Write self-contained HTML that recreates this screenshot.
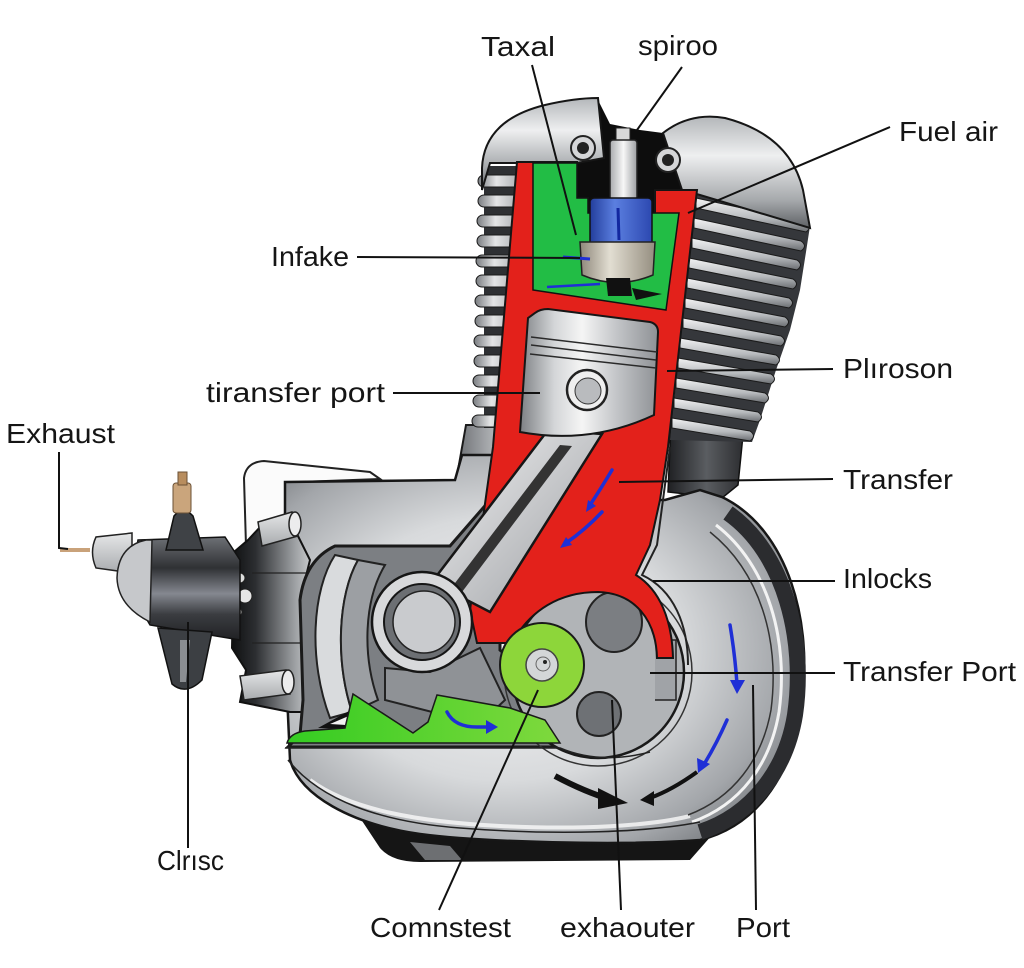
<!DOCTYPE html>
<html><head><meta charset="utf-8"><style>
html,body{margin:0;padding:0;background:#fff;}
svg{display:block;}
text{font-family:"Liberation Sans",Arial,sans-serif;font-size:28px;fill:#151515;}
</style></head><body>
<svg width="1024" height="968" viewBox="0 0 1024 968" xmlns="http://www.w3.org/2000/svg">
<defs>
<linearGradient id="gHead" x1="0" y1="0" x2="0" y2="1"><stop offset="0" stop-color="#b4b7ba"/><stop offset=".35" stop-color="#eeeff0"/><stop offset=".75" stop-color="#a6a9ac"/><stop offset="1" stop-color="#5e6165"/></linearGradient>
<linearGradient id="gFin" x1="0" y1="0" x2="0" y2="1"><stop offset="0" stop-color="#f2f2f3"/><stop offset=".6" stop-color="#b7babd"/><stop offset="1" stop-color="#6a6d71"/></linearGradient>
<linearGradient id="gFinL" x1="0" y1="0" x2="1" y2="0"><stop offset="0" stop-color="#7a7d81"/><stop offset=".4" stop-color="#e4e5e6"/><stop offset="1" stop-color="#9fa2a5"/></linearGradient>
<radialGradient id="gCase" cx=".42" cy=".5" r=".68"><stop offset="0" stop-color="#f5f5f6"/><stop offset=".5" stop-color="#d8dadc"/><stop offset=".8" stop-color="#a3a6aa"/><stop offset="1" stop-color="#6a6d71"/></radialGradient>
<linearGradient id="gPiston" x1="0" y1="0" x2="1" y2="0"><stop offset="0" stop-color="#7d8084"/><stop offset=".25" stop-color="#d4d6d8"/><stop offset=".45" stop-color="#f5f5f5"/><stop offset=".7" stop-color="#c3c5c8"/><stop offset="1" stop-color="#8e9195"/></linearGradient>
<linearGradient id="gRod" x1="0" y1="0" x2="1" y2="1"><stop offset="0" stop-color="#f2f2f3"/><stop offset="1" stop-color="#9a9da1"/></linearGradient>
<linearGradient id="gBlue" x1="0" y1="0" x2="1" y2="0"><stop offset="0" stop-color="#233e9c"/><stop offset=".4" stop-color="#5b7fe0"/><stop offset="1" stop-color="#2c48b0"/></linearGradient>
<linearGradient id="gBeige" x1="0" y1="0" x2="1" y2="0"><stop offset="0" stop-color="#8e877a"/><stop offset=".4" stop-color="#e2ded2"/><stop offset="1" stop-color="#958e80"/></linearGradient>
<linearGradient id="gCarb" x1="0" y1="0" x2="0" y2="1"><stop offset="0" stop-color="#6d7075"/><stop offset=".3" stop-color="#2f3134"/><stop offset=".55" stop-color="#858890"/><stop offset=".75" stop-color="#3b3d41"/><stop offset="1" stop-color="#202124"/></linearGradient>
<linearGradient id="gLeft" x1="0" y1="0" x2="1" y2="0"><stop offset="0" stop-color="#0f1011"/><stop offset=".3" stop-color="#2c2e31"/><stop offset=".8" stop-color="#9c9fa2"/><stop offset="1" stop-color="#c6c8ca"/></linearGradient>
<linearGradient id="gOil" x1="0" y1="0" x2="1" y2="0"><stop offset="0" stop-color="#34cc22"/><stop offset="1" stop-color="#7fd93d"/></linearGradient>
<linearGradient id="gTube" x1="0" y1="0" x2="1" y2="0"><stop offset="0" stop-color="#1f2023"/><stop offset=".5" stop-color="#5a5d61"/><stop offset="1" stop-color="#2a2b2e"/></linearGradient>
<linearGradient id="gSkirt" x1="0" y1="0" x2="1" y2="0"><stop offset="0" stop-color="#6f7276"/><stop offset="1" stop-color="#c5c7ca"/></linearGradient>
<linearGradient id="gPlug" x1="0" y1="0" x2="1" y2="0"><stop offset="0" stop-color="#a9abae"/><stop offset=".5" stop-color="#f7f7f7"/><stop offset="1" stop-color="#9c9ea1"/></linearGradient>
<linearGradient id="gLight" x1="0" y1="0" x2="0" y2="1"><stop offset="0" stop-color="#e6e7e8"/><stop offset="1" stop-color="#a8abae"/></linearGradient>
</defs>

<!-- tube and skirt behind -->
<path d="M672 400 L745 415 L738 485 L722 498 L668 492 Z" fill="url(#gTube)" stroke="#111" stroke-width="1.5"/>
<path d="M466 425 L505 425 L500 502 L460 502 L458 470 Z" fill="url(#gSkirt)" stroke="#1a1a1a" stroke-width="2"/>

<!-- white plate -->
<path d="M246 546 L244 478 Q246 462 264 461 L370 472 L380 479 L300 482 L292 546 Z" fill="#fbfbfb" stroke="#222" stroke-width="2"/>

<!-- base -->
<path d="M335 780 L380 848 Q392 862 420 862 L690 860 L712 835 L600 828 Z" fill="#151515"/>
<path d="M410 842 L450 846 L462 860 L425 860 Z" fill="#6d6f72"/>

<!-- crankcase body -->
<path d="M285 482 L455 480 L462 455 L505 455 L500 500 L665 500 L700 490 L722 497 C790 530 812 625 802 700 C795 770 760 825 700 840 C620 846 480 842 420 834 C350 824 300 795 290 760 L285 650 Z" fill="url(#gCase)" stroke="#161616" stroke-width="2.5"/>
<path d="M310 780 C350 810 420 822 500 826 C580 830 650 826 690 816" fill="none" stroke="#fafafa" stroke-width="4" opacity=".8"/>
<!-- ring -->
<path d="M728 513 C785 553 806 640 795 715 C786 770 752 815 700 832" fill="none" stroke="#2b2c2f" stroke-width="16"/>
<path d="M716 525 C768 565 789 640 779 712 C770 765 740 805 692 822" fill="none" stroke="#f3f3f3" stroke-width="3"/>
<path d="M710 532 C760 572 780 640 771 710 C762 760 733 798 688 815" fill="none" stroke="#333" stroke-width="1.5"/>
<path d="M288 760 C320 800 380 822 460 828 C560 836 650 832 700 822" fill="none" stroke="#222" stroke-width="1.5"/>

<!-- left dark cover -->
<path d="M290 520 L262 525 L248 540 L234 552 L232 648 L246 670 L240 702 L290 712 L305 712 L300 600 L310 560 Z" fill="url(#gLeft)" stroke="#111" stroke-width="2"/>
<line x1="252" y1="573" x2="306" y2="573" stroke="#222" stroke-width="1.2"/>
<line x1="252" y1="643" x2="302" y2="643" stroke="#222" stroke-width="1.2"/>
<circle cx="240" cy="578" r="5" fill="#ddd" stroke="#222"/>
<circle cx="245" cy="596" r="7" fill="#e6e6e6" stroke="#222"/>
<circle cx="238" cy="612" r="4" fill="#ccc" stroke="#222"/>
<!-- bolts -->
<path d="M258 522 L292 512 L298 536 L262 546 Z" fill="url(#gLight)" stroke="#222" stroke-width="1.5"/>
<ellipse cx="295" cy="524" rx="6" ry="12" fill="#ececed" stroke="#222" stroke-width="1.5"/>
<path d="M240 676 L286 670 L290 694 L244 700 Z" fill="url(#gLight)" stroke="#222" stroke-width="1.5"/>
<ellipse cx="288" cy="682" rx="6" ry="12" fill="#ececed" stroke="#222" stroke-width="1.5"/>

<!-- carburetor -->
<rect x="60" y="548" width="30" height="4" fill="#c9a27a"/>
<path d="M96 537 Q89 552 96 568 L132 573 L132 533 Z" fill="url(#gLight)" stroke="#222" stroke-width="1.5"/>
<path d="M138 540 L225 537 L240 560 L240 640 L150 625 Q128 590 138 540 Z" fill="url(#gCarb)" stroke="#111" stroke-width="1.5"/>
<path d="M146 540 Q118 546 117 578 Q118 606 150 622 L152 540 Z" fill="#c6c8cb" stroke="#222" stroke-width="1.5"/>
<path d="M158 628 L212 632 L202 680 Q186 696 172 684 Z" fill="#3c3f43" stroke="#111" stroke-width="1.5"/>
<path d="M180 640 L190 640 L186 682 L180 682 Z" fill="#8a8d91"/>
<path d="M166 550 L174 516 Q183 505 193 516 L203 550 Z" fill="#3f4246" stroke="#111" stroke-width="1.5"/>
<rect x="173" y="483" width="18" height="30" rx="3" fill="#caa57c" stroke="#6b5136"/>
<rect x="178" y="472" width="9" height="13" fill="#b88d5e" stroke="#6b5136"/>

<!-- opening & internals -->
<path d="M335 546 L450 546 L490 500 L500 500 L500 650 L560 700 L560 747 L288 747 L300 735 L303 700 L300 600 Q305 560 335 546 Z" fill="#7c7f83" stroke="#1a1a1a" stroke-width="3"/>
<path d="M335 555 C312 590 308 660 330 718 L352 712 C335 660 338 595 358 560 Z" fill="#d9dbdd" stroke="#222" stroke-width="2"/>
<path d="M358 560 C338 595 335 660 352 712 L378 700 C362 655 364 600 385 565 Z" fill="#9c9fa3" stroke="#222" stroke-width="2"/>
<path d="M385 668 L430 672 L480 648 L505 700 L490 714 L440 714 L385 700 Z" fill="#8f9296" stroke="#222" stroke-width="2"/>
<path d="M318 728 L360 705 L372 730 Z" fill="#111"/>
<path d="M330 724 L358 712 L362 726 Z" fill="#f2f2f2"/>

<!-- flywheel -->
<circle cx="598" cy="672" r="94" fill="none" stroke="#333" stroke-width="1.5"/>
<circle cx="598" cy="672" r="86" fill="#b1b4b7" stroke="#1a1a1a" stroke-width="2.5"/>
<ellipse cx="614" cy="622" rx="28" ry="30" fill="#7b7e82" stroke="#222" stroke-width="2"/>
<circle cx="599" cy="714" r="22" fill="#6e7175" stroke="#222" stroke-width="2"/>
<path d="M655 640 L676 640 L676 700 L655 700" fill="#a0a3a7" stroke="#222" stroke-width="1.5"/>

<!-- oil -->
<path d="M287 743 Q290 733 305 731 L345 728 L353 694 L413 733 L428 722 L437 695 L510 708 L545 720 L560 743 Z" fill="url(#gOil)" stroke="#1a1a1a" stroke-width="1.5"/>
<path d="M285 748 L560 748 Q600 765 650 752" fill="none" stroke="#222" stroke-width="1.5"/>

<!-- right fins -->
<path d="M696 190 L810 226 L806 252 L800 290 L790 330 L776 370 L760 420 L752 442 L670 440 Z" fill="#35373b"/>
<g fill="url(#gFin)" stroke="#1a1a1a" stroke-width="1">
<path d="M696 198 L806 222 Q813 227 806 232 L696 208 Z"/>
<path d="M694 218 L801 241 Q808 246 801 251 L694 228 Z"/>
<path d="M692 238 L797 260 Q804 265 797 270 L692 248 Z"/>
<path d="M689 258 L793 279 Q800 284 793 289 L689 268 Z"/>
<path d="M687 278 L789 298 Q796 303 789 308 L687 288 Z"/>
<path d="M685 298 L785 317 Q792 322 785 327 L685 308 Z"/>
<path d="M683 318 L781 336 Q788 341 781 346 L683 328 Z"/>
<path d="M680 338 L776 355 Q783 360 776 365 L680 348 Z"/>
<path d="M678 358 L771 374 Q778 379 771 384 L678 368 Z"/>
<path d="M676 378 L765 393 Q772 398 765 403 L676 388 Z"/>
<path d="M674 398 L758 412 Q765 417 758 422 L674 408 Z"/>
<path d="M672 418 L750 431 Q757 436 750 441 L672 428 Z"/>
</g>

<!-- left fins -->
<rect x="484" y="166" width="40" height="262" fill="#2e3033"/>
<g fill="url(#gFinL)" stroke="#1a1a1a" stroke-width="1">
<rect x="478" y="175" width="46" height="12" rx="6"/>
<rect x="478" y="195" width="46" height="12" rx="6"/>
<rect x="477" y="215" width="46" height="12" rx="6"/>
<rect x="477" y="235" width="46" height="12" rx="6"/>
<rect x="476" y="255" width="46" height="12" rx="6"/>
<rect x="476" y="275" width="46" height="12" rx="6"/>
<rect x="475" y="295" width="46" height="12" rx="6"/>
<rect x="475" y="315" width="46" height="12" rx="6"/>
<rect x="474" y="335" width="46" height="12" rx="6"/>
<rect x="474" y="355" width="46" height="12" rx="6"/>
<rect x="473" y="375" width="46" height="12" rx="6"/>
<rect x="473" y="395" width="46" height="12" rx="6"/>
<rect x="472" y="415" width="46" height="12" rx="6"/>
</g>

<!-- head -->
<path d="M597 98 L610 124 L640 130 L663 133 L675 160 L682 190 L679 213 L588 213 L588 198 L576 198 L576 160 L600 156 Z" fill="#0d0d0d"/>
<path d="M482 190 L482 168 Q484 120 545 105 Q575 98 598 98 L604 158 L577 163 L490 163 Z" fill="url(#gHead)" stroke="#161616" stroke-width="2"/>
<path d="M663 133 Q690 112 725 118 Q790 135 803 190 L810 228 L700 195 L682 190 Z" fill="url(#gHead)" stroke="#161616" stroke-width="2"/>
<circle cx="583" cy="148" r="12" fill="#d5d6d8" stroke="#222" stroke-width="2"/><circle cx="583" cy="148" r="6" fill="#222"/>
<circle cx="668" cy="160" r="12" fill="#d5d6d8" stroke="#222" stroke-width="2"/><circle cx="668" cy="160" r="6" fill="#222"/>

<!-- red -->
<path d="M517 162 L577 162 L577 198 L588 198 L588 213 L655 213 L655 190 L697 190 L668 447 L660 500 L650 545 L636 575 C660 590 672 620 673 658 L657 658 C656 620 635 593 598 592 C560 592 530 610 512 643 L477 643 L470 610 L493 447 Z" fill="#e3211b" stroke="#151515" stroke-width="2"/>
<path d="M670 447 L657 545 L642 575 C674 590 688 625 688 665" fill="none" stroke="#222" stroke-width="2"/>
<!-- green chamber -->
<path d="M533 163 L577 163 L577 198 L588 198 L588 213 L679 213 L666 310 L533 290 Z" fill="#22bd45" stroke="#111" stroke-width="1.5"/>
<!-- spark plug -->
<rect x="616" y="128" width="14" height="14" fill="#d8d8d8" stroke="#222"/>
<rect x="610" y="140" width="27" height="60" rx="3" fill="url(#gPlug)" stroke="#222" stroke-width="1.5"/>
<rect x="590" y="198" width="62" height="48" rx="4" fill="url(#gBlue)" stroke="#111" stroke-width="1.5"/>
<path d="M580 242 L655 242 L653 275 Q617 290 582 275 Z" fill="url(#gBeige)" stroke="#222" stroke-width="1.5"/>
<path d="M606 278 L630 278 L632 296 L608 296 Z" fill="#111"/>
<path d="M632 288 L662 294 L636 300 Z" fill="#111"/>
<line x1="618" y1="208" x2="619" y2="240" stroke="#1328a0" stroke-width="3"/>
<path d="M563 257 L590 259" stroke="#1f2fd6" stroke-width="3"/>
<path d="M547 287 L600 284" stroke="#1f2fd6" stroke-width="2.5"/>

<!-- conrod -->
<path d="M548 430 L602 434 L490 612 L432 582 Z" fill="url(#gRod)" stroke="#161616" stroke-width="2.5"/>
<path d="M560 445 L572 446 L462 592 L452 587 Z" fill="#333"/>
<circle cx="422" cy="622" r="50" fill="#d8d9db" stroke="#161616" stroke-width="2.5"/>
<circle cx="422" cy="622" r="38" fill="#6c6f73" stroke="#161616" stroke-width="2"/>
<circle cx="424" cy="622" r="31" fill="#c9cbce" stroke="#222" stroke-width="1.5"/>

<!-- piston -->
<path d="M535 313 Q540 309 548 309 L650 322 Q658 324 658 332 L654 415 Q590 445 520 432 L528 318 Z" fill="url(#gPiston)" stroke="#161616" stroke-width="2"/>
<path d="M531 337 L657 352 M531 345 L656 360 M530 354 L656 368" stroke="#2a2a2a" stroke-width="1.5" fill="none"/>
<circle cx="587" cy="390" r="20" fill="#efefef" stroke="#222" stroke-width="2.5"/>
<circle cx="588" cy="391" r="13" fill="#b9bbbe" stroke="#333"/>

<!-- green disc -->
<circle cx="542" cy="665" r="42" fill="#8dd63a" stroke="#1a1a1a" stroke-width="2"/>
<circle cx="542" cy="665" r="16" fill="#d4d6d8" stroke="#444" stroke-width="1.5"/>
<circle cx="543" cy="664" r="7" fill="none" stroke="#666"/>
<circle cx="545" cy="662" r="2" fill="#222"/>

<!-- blue arrows -->
<g stroke="#1f2fd6" stroke-width="3.5" fill="none" stroke-linecap="round">
<path d="M612 470 Q600 490 590 505"/>
<path d="M602 512 Q585 530 566 543"/>
<path d="M447 712 Q455 728 480 727 L490 727"/>
<path d="M730 625 Q735 655 737 684"/>
<path d="M727 720 Q716 745 703 766"/>
</g>
<g fill="#1f2fd6">
<polygon points="586,512 588,500 596,506"/>
<polygon points="560,548 566,537 572,545"/>
<polygon points="498,727 486,720 486,734"/>
<polygon points="737,694 730,680 745,680"/>
<polygon points="698,773 697,758 710,764"/>
</g>
<!-- black arrows -->
<path d="M555 776 Q585 792 612 800" stroke="#111" stroke-width="6" fill="none"/>
<polygon points="598,788 628,803 598,809" fill="#111"/>
<path d="M697 772 Q672 790 650 798" stroke="#111" stroke-width="4" fill="none"/>
<polygon points="640,800 654,791 654,806" fill="#111"/>

<!-- leader lines -->
<g stroke="#111" stroke-width="2" fill="none">
<line x1="532" y1="65" x2="576" y2="235"/>
<line x1="682" y1="67" x2="637" y2="130"/>
<line x1="890" y1="127" x2="688" y2="213"/>
<line x1="357" y1="257" x2="580" y2="258"/>
<line x1="393" y1="393" x2="540" y2="393"/>
<polyline points="59,452 59,548 68,549"/>
<line x1="833" y1="369" x2="667" y2="371"/>
<line x1="833" y1="479" x2="619" y2="482"/>
<line x1="835" y1="581" x2="653" y2="581"/>
<line x1="835" y1="673" x2="650" y2="673"/>
<line x1="188" y1="622" x2="188" y2="848"/>
<line x1="538" y1="690" x2="439" y2="910"/>
<line x1="612" y1="700" x2="621" y2="910"/>
<line x1="753" y1="685" x2="756" y2="910"/>
</g>

<!-- labels -->
<text x="481" y="56" textLength="74" lengthAdjust="spacingAndGlyphs">Taxal</text>
<text x="638" y="55" textLength="80" lengthAdjust="spacingAndGlyphs">spiroo</text>
<text x="899" y="141" textLength="99" lengthAdjust="spacingAndGlyphs">Fuel air</text>
<text x="271" y="266" textLength="78" lengthAdjust="spacingAndGlyphs">Infake</text>
<text x="206" y="402" textLength="179" lengthAdjust="spacingAndGlyphs">tiransfer port</text>
<text x="6" y="443" textLength="109" lengthAdjust="spacingAndGlyphs">Exhaust</text>
<text x="843" y="378" textLength="110" lengthAdjust="spacingAndGlyphs">Plıroson</text>
<text x="843" y="489" textLength="110" lengthAdjust="spacingAndGlyphs">Transfer</text>
<text x="843" y="588" textLength="89" lengthAdjust="spacingAndGlyphs">Inlocks</text>
<text x="843" y="681" textLength="173" lengthAdjust="spacingAndGlyphs">Transfer Port</text>
<text x="157" y="870" textLength="67" lengthAdjust="spacingAndGlyphs">Clrısc</text>
<text x="370" y="937" textLength="141" lengthAdjust="spacingAndGlyphs">Comnstest</text>
<text x="560" y="937" textLength="135" lengthAdjust="spacingAndGlyphs">exhaouter</text>
<text x="736" y="937" textLength="54" lengthAdjust="spacingAndGlyphs">Port</text>
</svg>
</body></html>
